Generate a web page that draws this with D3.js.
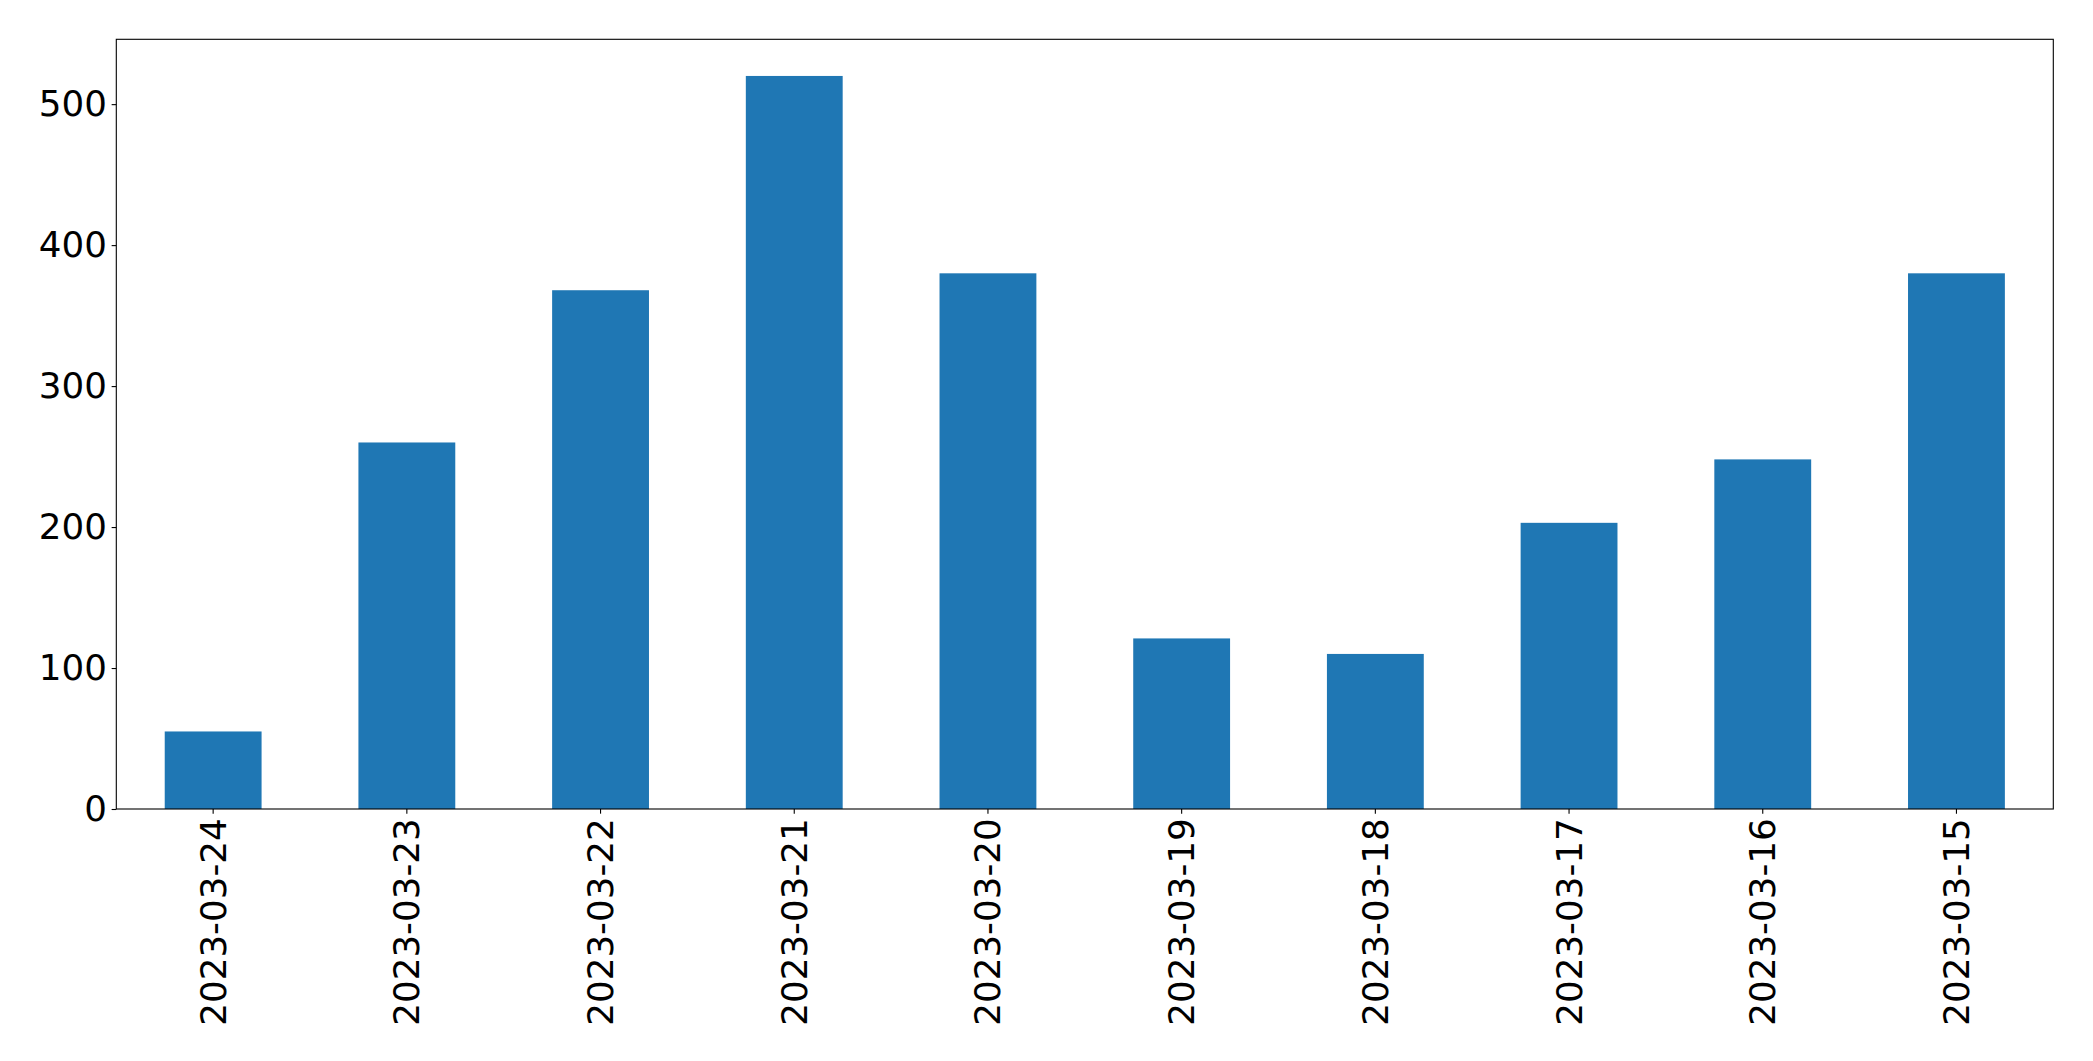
<!DOCTYPE html>
<html>
<head>
<meta charset="utf-8">
<script src="https://cdn.jsdelivr.net/npm/d3@7"></script>
<style>
  html, body { margin: 0; padding: 0; background: #fff; }
  svg { display: block; }
</style>
</head>
<body>
<script>
const categories = ["2023-03-24","2023-03-23","2023-03-22","2023-03-21","2023-03-20","2023-03-19","2023-03-18","2023-03-17","2023-03-16","2023-03-15"];
const values = [55, 260, 368, 520, 380, 121, 110, 203, 248, 380];
const yTicks = [0, 100, 200, 300, 400, 500];

const W = 2093, H = 1061;
const margin = {left: 116.3, right: W - 2053.3, top: 39.3, bottom: H - 809};
const fontFamily = "'DejaVu Sans', sans-serif";
const fontSize = 35.7;

const svg = d3.select("body").append("svg").attr("width", W).attr("height", H);

const x = d3.scaleBand().domain(categories)
  .range([margin.left, W - margin.right])
  .paddingInner(0.5).paddingOuter(0.25);
const y = d3.scaleLinear().domain([0, d3.max(values) * 1.05])
  .range([H - margin.bottom, margin.top]);

svg.append("g").selectAll("rect").data(values).join("rect")
  .attr("x", (d, i) => x(categories[i]))
  .attr("y", d => y(d))
  .attr("width", x.bandwidth())
  .attr("height", d => y(0) - y(d))
  .attr("fill", "#1f77b4");

const yAxis = svg.append("g").attr("transform", `translate(${margin.left},0)`)
  .call(d3.axisLeft(y).tickValues(yTicks).tickSize(4.67).tickPadding(4.67).tickFormat(d3.format("d")));
yAxis.select(".domain").remove();
yAxis.selectAll("text").attr("font-family", fontFamily).attr("font-size", fontSize).attr("fill", "#000");
yAxis.selectAll("line").attr("stroke", "#000").attr("stroke-width", 1.1);

const xAxis = svg.append("g").attr("transform", `translate(0,${H - margin.bottom})`)
  .call(d3.axisBottom(x).tickSize(4.67).tickPadding(0));
xAxis.select(".domain").remove();
xAxis.selectAll("line").attr("stroke", "#000").attr("stroke-width", 1.1);
xAxis.selectAll("text")
  .attr("font-family", fontFamily).attr("font-size", fontSize).attr("fill", "#000")
  .attr("transform", "translate(0,9.3) rotate(-90)")
  .attr("x", 0).attr("y", 0).attr("dy", "0.35em")
  .attr("text-anchor", "end");

svg.append("rect")
  .attr("x", margin.left).attr("y", margin.top)
  .attr("width", W - margin.left - margin.right)
  .attr("height", H - margin.top - margin.bottom)
  .attr("fill", "none").attr("stroke", "#000").attr("stroke-width", 1.1);
</script>
</body>
</html>
